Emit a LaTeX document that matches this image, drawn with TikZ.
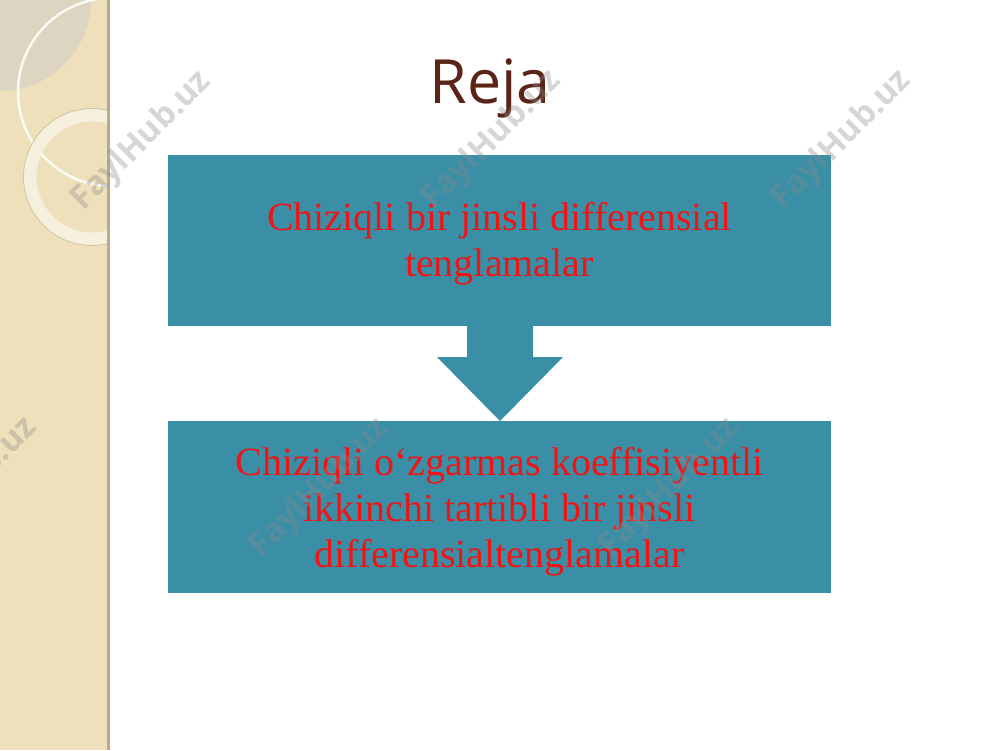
\documentclass[tikz,border=0pt]{standalone}
\usepackage{fontspec}
\setmainfont{Liberation Serif}
\newfontfamily\titlefont{Open Sans}
\newfontfamily\wmfont{Open Sans}
\definecolor{teal1}{HTML}{3A8FA7}
\definecolor{beige}{HTML}{EEE0BA}
\definecolor{greyc}{HTML}{DDD4C2}
\definecolor{edge}{HTML}{B9AB8A}
\definecolor{brownt}{HTML}{5A2418}
\definecolor{redt}{HTML}{F01414}
\tikzset{
  box/.style={fill=teal1, draw=none},
  boxtext/.style={text=redt, font=\fontsize{40}{46}\selectfont, align=center},
  wm/.style={text=black!45, opacity=0.35, rotate=45, font=\wmfont\bfseries\fontsize{33}{33}\selectfont},
}
\begin{document}
\begin{tikzpicture}[x=1pt,y=-1pt]
\useasboundingbox (0,0) rectangle (1000,750);
\fill[white] (0,0) rectangle (1000,750);
% sidebar
\fill[beige] (0,0) rectangle (108,750);
\begin{scope}
  \clip (0,0) rectangle (108,750);
  \fill[greyc] (0,0) circle (91);
  \draw[white!85!beige, line width=2.5] (112,92) circle (94);
  \draw[white!50!beige, line width=13] (92,177) circle (62);
  \draw[black!12!beige, line width=0.8] (92,177) circle (68.5);
\end{scope}
\draw[edge, line width=3] (108.5,0) -- (108.5,750);
% title
\node[text=brownt, font=\titlefont\fontsize{61}{61}\selectfont] (title) at (490,88) {Reja};
% boxes
\node[box, minimum width=663, minimum height=171, inner sep=0] (b1) at (499.5,240.5) {};
\node[box, minimum width=663, minimum height=172, inner sep=0] (b2) at (499.5,507) {};
\node[boxtext] (t1) at ([yshift=-3pt]b1.center) {Chiziqli bir jinsli differensial\\tenglamalar};
\node[boxtext] (t2) at ([yshift=-5pt]b2.center) {Chiziqli o‘zgarmas koeffisiyentli\\ikkinchi tartibli bir jinsli\\differensialtenglamalar};
% arrow
\fill[teal1] (467,326) -- (533,326) -- (533,357) -- (563,357) -- (500,421) -- (437,357) -- (467,357) -- cycle;
\coordinate (arrtip) at (500,421);
% watermarks
\node[wm] (w1) at (142,141) {FaylHub.uz};
\node[wm] (w2) at (492,140) {FaylHub.uz};
\node[wm] (w3) at (842,140) {FaylHub.uz};
\node[wm] (w4) at (-32,487) {FaylHub.uz};
\node[wm] (w5) at (320,488) {FaylHub.uz};
\node[wm] (w6) at (670,488) {FaylHub.uz};
\end{tikzpicture}
\end{document}
